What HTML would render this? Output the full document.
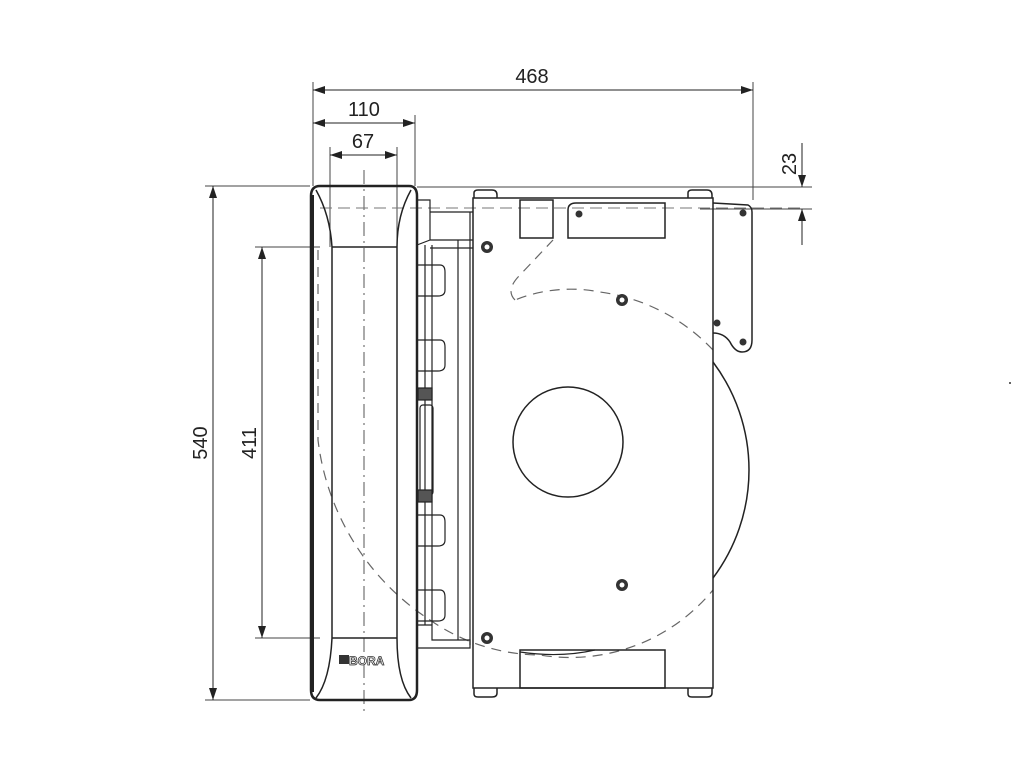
<!DOCTYPE html>
<html><head><style>body{margin:0;background:#fff}svg{display:block}</style></head><body>
<svg width="1017" height="766" viewBox="0 0 1017 766" xmlns="http://www.w3.org/2000/svg" font-family="Liberation Sans, sans-serif">
<defs><marker id="a" viewBox="0 0 12 8" refX="12" refY="4" markerWidth="12" markerHeight="8" orient="auto-start-reverse" markerUnits="userSpaceOnUse"><path d="M0,0 L12,4 L0,8z" fill="#222"/></marker></defs>
<g stroke="#444" stroke-width="1" fill="none">
<line x1="313" y1="82" x2="313" y2="186"/><line x1="753" y1="82" x2="753" y2="200"/>
<line x1="415" y1="115" x2="415" y2="186"/>
<line x1="330" y1="147" x2="330" y2="247"/><line x1="397" y1="147" x2="397" y2="247"/>
<line x1="205" y1="186" x2="310" y2="186"/><line x1="205" y1="700" x2="310" y2="700"/>
<line x1="255" y1="247" x2="320" y2="247"/><line x1="255" y1="638" x2="320" y2="638"/>
<line x1="417" y1="187" x2="812" y2="187"/><line x1="700" y1="209" x2="812" y2="209"/>
</g>
<g stroke="#222" stroke-width="1" fill="none">
<line x1="313" y1="90" x2="753" y2="90" marker-start="url(#a)" marker-end="url(#a)"/>
<line x1="313" y1="123" x2="415" y2="123" marker-start="url(#a)" marker-end="url(#a)"/>
<line x1="330" y1="155" x2="397" y2="155" marker-start="url(#a)" marker-end="url(#a)"/>
<line x1="213" y1="186" x2="213" y2="700" marker-start="url(#a)" marker-end="url(#a)"/>
<line x1="262" y1="247" x2="262" y2="638" marker-start="url(#a)" marker-end="url(#a)"/>
<line x1="802" y1="143" x2="802" y2="187" marker-end="url(#a)"/>
<line x1="802" y1="245" x2="802" y2="209" marker-end="url(#a)"/>
</g>
<g font-size="20" fill="#222" text-anchor="middle">
<text x="532" y="83">468</text><text x="364" y="116">110</text><text x="363" y="148">67</text>
<text transform="translate(207,443) rotate(-90)">540</text>
<text transform="translate(256,443) rotate(-90)">411</text>
<text transform="translate(796,164) rotate(-90)">23</text>
</g>
<line x1="364" y1="170" x2="364" y2="715" stroke="#555" stroke-dasharray="14,5,2,5"/>
<line x1="320" y1="208" x2="800" y2="208" stroke="#777" stroke-dasharray="12,6"/>
<g stroke="#666" stroke-width="1.2" fill="none" stroke-dasharray="10,7">
<path d="M318,250 L318,440 A250,250 0 0 0 430,620"/>
<path d="M430,620 A195,195 0 0 0 540,655 A185,185 0 0 0 713,590"/>
<path d="M713,350 A190,190 0 0 0 600,292 A150,150 0 0 0 515,300"/>
<path d="M515,300 Q505,290 520,275 L553,240"/>
</g>
<g stroke="#222" fill="none">
<path d="M320,186 L409,186 Q417,186 417,196 L417,690 Q417,700 409,700 L320,700 Q311,700 311,690 L311,196 Q311,186 320,186Z" stroke-width="2.5"/>
<line x1="313" y1="195" x2="313" y2="692" stroke-width="2"/>
<path d="M316,190 Q330,215 332,247 L332,638 Q330,680 316,698" stroke-width="1.5"/>
<path d="M411,190 Q397,215 397,247 L397,638 Q397,680 411,698" stroke-width="1.5"/>
<line x1="332" y1="247" x2="397" y2="247" stroke-width="1.5"/>
<line x1="332" y1="638" x2="397" y2="638" stroke-width="1.5"/>
</g>
<rect x="339" y="655" width="10" height="9" fill="#333"/>
<text x="349" y="665" font-size="12" font-weight="bold" fill="#fff" stroke="#333" stroke-width="0.8">BORA</text>
<g stroke="#222" fill="none" stroke-width="1.2">
<path d="M417,200 L430,200 L430,240 L417,245"/>
<line x1="430" y1="212" x2="473" y2="212"/><line x1="430" y1="240" x2="473" y2="240"/>
<line x1="430" y1="248" x2="473" y2="248"/>
<line x1="425" y1="245" x2="425" y2="625"/><line x1="432" y1="245" x2="432" y2="625"/>
<line x1="458" y1="240" x2="458" y2="640"/><line x1="470" y1="212" x2="470" y2="645"/>
<path d="M417,265 L440,265 Q445,265 445,272 L445,290 Q445,296 438,296 L417,296"/>
<path d="M417,340 L440,340 Q445,340 445,347 L445,365 Q445,371 438,371 L417,371"/>
<path d="M417,515 L440,515 Q445,515 445,522 L445,540 Q445,546 438,546 L417,546"/>
<path d="M417,590 L440,590 Q445,590 445,597 L445,615 Q445,621 438,621 L417,621"/>
<rect x="420" y="405" width="13" height="90" rx="3"/>
<rect x="418" y="388" width="14" height="12" fill="#555"/><rect x="418" y="490" width="14" height="12" fill="#555"/>
<path d="M417,625 L432,625 L432,640 L470,640 L470,648 L417,648"/>
</g>
<g stroke="#222" fill="none" stroke-width="1.5">
<path d="M473,198 L713,198 L713,688 L473,688 Z"/>
<path d="M474,198 L474,193 Q474,190 478,190 L492,190 Q497,190 497,195 L497,198"/>
<path d="M688,198 L688,193 Q688,190 692,190 L707,190 Q712,190 712,195 L712,198"/>
<path d="M474,688 L474,694 Q474,697 478,697 L492,697 Q497,697 497,693 L497,688"/>
<path d="M688,688 L688,694 Q688,697 692,697 L707,697 Q712,697 712,693 L712,688"/>
<rect x="520" y="200" width="33" height="38"/>
<path d="M568,238 L568,210 Q568,203 576,203 L665,203 L665,238 Z"/>
<rect x="520" y="650" width="145" height="38"/>
<path d="M713,203 L748,205 Q752,207 752,212 L752,340 Q752,352 742,352 Q735,352 730,342 Q724,333 713,333"/>
<path d="M713,362 A180,180 0 0 1 713,578"/>
<circle cx="568" cy="442" r="55"/>
<path d="M520,652 Q560,658 595,650" stroke-width="1.2"/>
</g>
<g fill="#333">
<circle cx="487" cy="247" r="6"/><circle cx="622" cy="300" r="6"/><circle cx="622" cy="585" r="6"/><circle cx="487" cy="638" r="6"/>
<circle cx="579" cy="214" r="3.5"/><circle cx="743" cy="213" r="3.5"/><circle cx="743" cy="342" r="3.5"/><circle cx="717" cy="323" r="3.5"/>
<circle cx="1010" cy="383" r="1"/>
</g>
<g fill="#fff"><circle cx="487" cy="247" r="2.5"/><circle cx="622" cy="300" r="2.5"/><circle cx="622" cy="585" r="2.5"/><circle cx="487" cy="638" r="2.5"/></g>
</svg>
</body></html>
